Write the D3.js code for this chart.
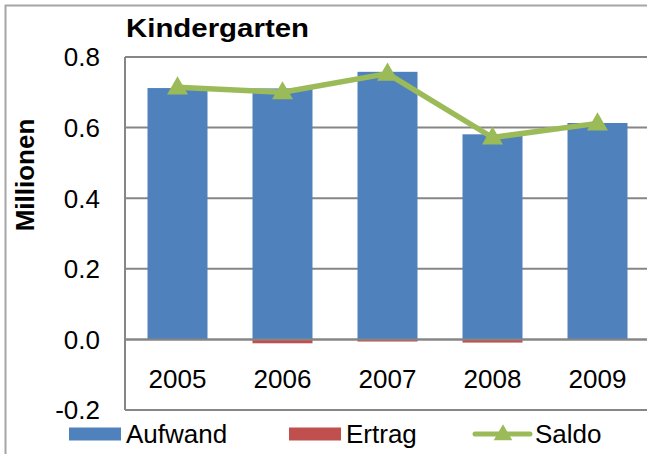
<!DOCTYPE html>
<html>
<head>
<meta charset="utf-8">
<script src="https://cdn.jsdelivr.net/npm/d3@7"></script>
<style>
  body { margin: 0; background: #fff; }
  text { font-family: "Liberation Sans", Arial, sans-serif; fill: #000; }
</style>
</head>
<body>
<div id="chart"></div>
<script>
// data (millions)
var years   = ["2005", "2006", "2007", "2008", "2009"];
var aufwand = [0.712, 0.711, 0.758, 0.581, 0.613];
var ertrag  = [0.000, -0.011, -0.006, -0.009, 0.000];
var saldo   = [0.714, 0.700, 0.753, 0.572, 0.612];
var yTicks  = [-0.2, 0, 0.2, 0.4, 0.6, 0.8];

var W = 647, H = 454;
var plot = {left: 125, right: 650, top: 57, bottom: 410};

var svg = d3.select("#chart").append("svg")
  .attr("width", W)
  .attr("height", H);

// chart border
svg.append("rect")
  .attr("x", 5.5).attr("y", 5.5)
  .attr("width", 700).attr("height", 500)
  .attr("fill", "none")
  .attr("stroke", "#a6a6a6")
  .attr("stroke-width", 2);

var x = d3.scaleBand()
  .domain(years)
  .range([plot.left, plot.right])
  .paddingInner(0.4286)
  .paddingOuter(0.2143);

var y = d3.scaleLinear()
  .domain([-0.2, 0.8])
  .range([plot.bottom, plot.top]);

// gridlines
svg.append("g")
  .selectAll("line")
  .data(yTicks)
  .enter()
  .append("line")
    .attr("x1", plot.left)
    .attr("x2", plot.right)
    .attr("y1", function(d){ return y(d) })
    .attr("y2", function(d){ return y(d) })
    .attr("stroke", "#868686")
    .attr("stroke-width", 2);

// y axis line
svg.append("line")
  .attr("x1", plot.left).attr("x2", plot.left)
  .attr("y1", plot.top).attr("y2", plot.bottom)
  .attr("stroke", "#868686")
  .attr("stroke-width", 2);

// y tick labels (plain hyphen like Excel)
svg.append("g")
  .selectAll("text")
  .data(yTicks)
  .enter()
  .append("text")
    .attr("x", 100)
    .attr("y", function(d){ return y(d) })
    .attr("dy", "0.36em")
    .attr("text-anchor", "end")
    .style("font-size", "26px")
    .text(function(d){ return d.toFixed(1) });

// bars: Aufwand
svg.append("g")
  .selectAll("rect")
  .data(aufwand)
  .enter()
  .append("rect")
    .attr("x", function(d, i){ return x(years[i]) })
    .attr("width", x.bandwidth())
    .attr("y", function(d){ return y(Math.max(0, d)) })
    .attr("height", function(d){ return Math.abs(y(d) - y(0)) })
    .attr("fill", "#4f81bd");

// bars: Ertrag (overlapping)
svg.append("g")
  .selectAll("rect")
  .data(ertrag)
  .enter()
  .append("rect")
    .attr("x", function(d, i){ return x(years[i]) })
    .attr("width", x.bandwidth())
    .attr("y", function(d){ return y(Math.max(0, d)) })
    .attr("height", function(d){ return Math.abs(y(d) - y(0)) })
    .attr("fill", "#c0504d");

// redraw zero line above bars
svg.append("line")
  .attr("x1", plot.left).attr("x2", plot.right)
  .attr("y1", y(0)).attr("y2", y(0))
  .attr("stroke", "#868686")
  .attr("stroke-width", 2);

// category labels
svg.append("g")
  .selectAll("text")
  .data(years)
  .enter()
  .append("text")
    .attr("x", function(d){ return x(d) + x.bandwidth() / 2 })
    .attr("y", 388)
    .attr("text-anchor", "middle")
    .style("font-size", "26px")
    .text(function(d){ return d });

// Saldo line
var line = d3.line()
  .x(function(d, i){ return x(years[i]) + x.bandwidth() / 2 })
  .y(function(d){ return y(d) });

svg.append("path")
  .datum(saldo)
  .attr("d", line)
  .attr("fill", "none")
  .attr("stroke", "#9bbb59")
  .attr("stroke-width", 5.5)
  .attr("stroke-linejoin", "round");

var tri = d3.symbol().type(d3.symbolTriangle).size(190);

svg.append("g")
  .selectAll("path")
  .data(saldo)
  .enter()
  .append("path")
    .attr("d", tri)
    .attr("transform", function(d, i){
      return "translate(" + (x(years[i]) + x.bandwidth() / 2) + "," + (y(d) + 1) + ")";
    })
    .attr("fill", "#9bbb59");

// title
svg.append("text")
  .attr("x", 126)
  .attr("y", 37)
  .style("font-size", "26px")
  .style("font-weight", "bold")
  .attr("textLength", 183)
  .attr("lengthAdjust", "spacingAndGlyphs")
  .text("Kindergarten");

// y axis title
svg.append("text")
  .attr("transform", "translate(34,175) rotate(-90)")
  .attr("text-anchor", "middle")
  .style("font-size", "26px")
  .style("font-weight", "bold")
  .text("Millionen");

// legend
var legendY = 434;
var legend = svg.append("g");

legend.append("rect")
  .attr("x", 69).attr("y", legendY - 6.5)
  .attr("width", 52).attr("height", 13)
  .attr("fill", "#4f81bd");
legend.append("text")
  .attr("x", 126).attr("y", 443)
  .style("font-size", "26px")
  .text("Aufwand");

legend.append("rect")
  .attr("x", 289).attr("y", legendY - 6.5)
  .attr("width", 52).attr("height", 13)
  .attr("fill", "#c0504d");
legend.append("text")
  .attr("x", 346).attr("y", 443)
  .style("font-size", "26px")
  .text("Ertrag");

legend.append("line")
  .attr("x1", 475).attr("x2", 530)
  .attr("y1", legendY).attr("y2", legendY)
  .attr("stroke", "#9bbb59")
  .attr("stroke-width", 5)
  .attr("stroke-linecap", "round");
legend.append("path")
  .attr("d", d3.symbol().type(d3.symbolTriangle).size(150))
  .attr("transform", "translate(503," + (legendY + 1) + ")")
  .attr("fill", "#9bbb59");
legend.append("text")
  .attr("x", 535).attr("y", 443)
  .style("font-size", "26px")
  .text("Saldo");
</script>
</body>
</html>
